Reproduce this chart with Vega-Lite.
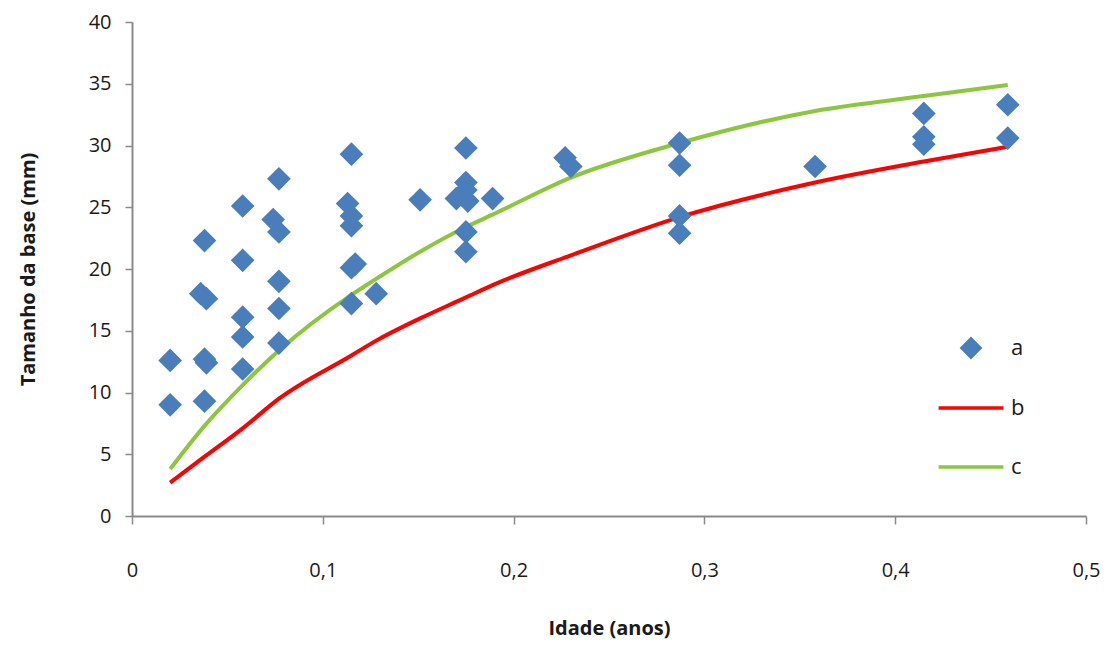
{
  "$schema": "https://vega.github.io/schema/vega-lite/v6.json",
  "width": 954,
  "height": 494,
  "autosize": {"type": "none"},
  "padding": {"left": 132, "top": 22, "right": 31, "bottom": 136},
  "background": "white",
  "config": {
    "view": {"stroke": null},
    "font": "Open Sans",
    "axis": {
      "grid": false,
      "domainColor": "#8a8a8a",
      "domainWidth": 2,
      "tickColor": "#8a8a8a",
      "tickWidth": 1.5,
      "labelFont": "Open Sans",
      "labelFontSize": 20,
      "labelColor": "#1a1a1a",
      "titleFont": "Open Sans",
      "titleFontSize": 20,
      "titleFontWeight": "bold",
      "titleColor": "#1a1a1a"
    }
  },
  "datasets": {
    "obs": [
      {"idade": 0.02, "tamanho": 12.6, "serie": "a"},
      {"idade": 0.02, "tamanho": 9.0, "serie": "a"},
      {"idade": 0.038, "tamanho": 22.3, "serie": "a"},
      {"idade": 0.036, "tamanho": 18.0, "serie": "a"},
      {"idade": 0.039, "tamanho": 17.6, "serie": "a"},
      {"idade": 0.038, "tamanho": 12.7, "serie": "a"},
      {"idade": 0.039, "tamanho": 12.4, "serie": "a"},
      {"idade": 0.038, "tamanho": 9.3, "serie": "a"},
      {"idade": 0.058, "tamanho": 25.1, "serie": "a"},
      {"idade": 0.058, "tamanho": 20.7, "serie": "a"},
      {"idade": 0.058, "tamanho": 16.1, "serie": "a"},
      {"idade": 0.058, "tamanho": 14.5, "serie": "a"},
      {"idade": 0.058, "tamanho": 11.9, "serie": "a"},
      {"idade": 0.077, "tamanho": 27.3, "serie": "a"},
      {"idade": 0.074, "tamanho": 24.0, "serie": "a"},
      {"idade": 0.077, "tamanho": 23.0, "serie": "a"},
      {"idade": 0.077, "tamanho": 19.0, "serie": "a"},
      {"idade": 0.077, "tamanho": 16.8, "serie": "a"},
      {"idade": 0.077, "tamanho": 14.0, "serie": "a"},
      {"idade": 0.115, "tamanho": 29.3, "serie": "a"},
      {"idade": 0.113, "tamanho": 25.3, "serie": "a"},
      {"idade": 0.115, "tamanho": 24.3, "serie": "a"},
      {"idade": 0.115, "tamanho": 23.5, "serie": "a"},
      {"idade": 0.117, "tamanho": 20.4, "serie": "a"},
      {"idade": 0.115, "tamanho": 20.1, "serie": "a"},
      {"idade": 0.115, "tamanho": 17.2, "serie": "a"},
      {"idade": 0.128, "tamanho": 18.0, "serie": "a"},
      {"idade": 0.151, "tamanho": 25.6, "serie": "a"},
      {"idade": 0.175, "tamanho": 29.8, "serie": "a"},
      {"idade": 0.175, "tamanho": 27.0, "serie": "a"},
      {"idade": 0.175, "tamanho": 26.4, "serie": "a"},
      {"idade": 0.170, "tamanho": 25.7, "serie": "a"},
      {"idade": 0.176, "tamanho": 25.5, "serie": "a"},
      {"idade": 0.189, "tamanho": 25.7, "serie": "a"},
      {"idade": 0.175, "tamanho": 23.0, "serie": "a"},
      {"idade": 0.175, "tamanho": 21.4, "serie": "a"},
      {"idade": 0.227, "tamanho": 29.0, "serie": "a"},
      {"idade": 0.230, "tamanho": 28.3, "serie": "a"},
      {"idade": 0.287, "tamanho": 30.2, "serie": "a"},
      {"idade": 0.287, "tamanho": 28.4, "serie": "a"},
      {"idade": 0.287, "tamanho": 24.3, "serie": "a"},
      {"idade": 0.287, "tamanho": 22.9, "serie": "a"},
      {"idade": 0.358, "tamanho": 28.3, "serie": "a"},
      {"idade": 0.415, "tamanho": 32.6, "serie": "a"},
      {"idade": 0.415, "tamanho": 30.7, "serie": "a"},
      {"idade": 0.415, "tamanho": 30.1, "serie": "a"},
      {"idade": 0.459, "tamanho": 33.3, "serie": "a"},
      {"idade": 0.459, "tamanho": 30.6, "serie": "a"}
    ],
    "curvas": [
      {"idade": 0.02, "tamanho": 2.7, "serie": "b"},
      {"idade": 0.038, "tamanho": 4.8, "serie": "b"},
      {"idade": 0.058, "tamanho": 7.1, "serie": "b"},
      {"idade": 0.077, "tamanho": 9.5, "serie": "b"},
      {"idade": 0.115, "tamanho": 13.0, "serie": "b"},
      {"idade": 0.128, "tamanho": 14.2, "serie": "b"},
      {"idade": 0.151, "tamanho": 16.0, "serie": "b"},
      {"idade": 0.175, "tamanho": 17.7, "serie": "b"},
      {"idade": 0.189, "tamanho": 18.7, "serie": "b"},
      {"idade": 0.23, "tamanho": 21.1, "serie": "b"},
      {"idade": 0.287, "tamanho": 24.2, "serie": "b"},
      {"idade": 0.358, "tamanho": 27.0, "serie": "b"},
      {"idade": 0.415, "tamanho": 28.7, "serie": "b"},
      {"idade": 0.459, "tamanho": 29.9, "serie": "b"},
      {"idade": 0.02, "tamanho": 3.8, "serie": "c"},
      {"idade": 0.038, "tamanho": 7.3, "serie": "c"},
      {"idade": 0.058, "tamanho": 10.6, "serie": "c"},
      {"idade": 0.077, "tamanho": 13.4, "serie": "c"},
      {"idade": 0.115, "tamanho": 17.9, "serie": "c"},
      {"idade": 0.128, "tamanho": 19.2, "serie": "c"},
      {"idade": 0.151, "tamanho": 21.4, "serie": "c"},
      {"idade": 0.175, "tamanho": 23.4, "serie": "c"},
      {"idade": 0.189, "tamanho": 24.4, "serie": "c"},
      {"idade": 0.23, "tamanho": 27.4, "serie": "c"},
      {"idade": 0.287, "tamanho": 30.2, "serie": "c"},
      {"idade": 0.358, "tamanho": 32.8, "serie": "c"},
      {"idade": 0.415, "tamanho": 34.0, "serie": "c"},
      {"idade": 0.459, "tamanho": 34.9, "serie": "c"}
    ]
  },
  "encoding": {
    "x": {
      "field": "idade",
      "type": "quantitative",
      "scale": {"domain": [0, 0.5], "nice": false, "zero": false},
      "axis": {
        "title": "Idade (anos)",
        "values": [0, 0.1, 0.2, 0.3, 0.4, 0.5],
        "labelExpr": "datum.value == 0 ? '0' : replace(format(datum.value, '.1f'), '.', ',')",
        "tickSize": 8,
        "labelPadding": 36,
        "titlePadding": 38,
        "labelFlush": false
      }
    },
    "y": {
      "field": "tamanho",
      "type": "quantitative",
      "scale": {"domain": [0, 40], "nice": false},
      "axis": {
        "title": "Tamanho da base (mm)",
        "values": [0, 5, 10, 15, 20, 25, 30, 35, 40],
        "tickSize": 7,
        "labelPadding": 14,
        "titlePadding": 50,
        "labelFlush": false
      }
    },
    "color": {
      "field": "serie",
      "type": "nominal",
      "scale": {"domain": ["a", "b", "c"], "range": ["#4a7ebb", "#ff0000", "#8cc63f"]},
      "legend": {
        "title": null,
        "orient": "none",
        "legendX": 828,
        "legendY": 315,
        "labelFontSize": 22,
        "labelFont": "Open Sans",
        "labelColor": "#1a1a1a",
        "labelOffset": 29,
        "rowPadding": 37,
        "symbolSize": 4200,
        "symbolStrokeWidth": 3.5,
        "encode": {
          "symbols": {
            "update": {
              "size": {"signal": "datum.value === 'a' ? 520 : 4200"},
              "stroke": {"signal": "datum.value === 'a' ? '#4a7ebb' : datum.value === 'b' ? '#ff0000' : '#8cc63f'"},
              "strokeWidth": {"signal": "datum.value === 'a' ? 0 : 3.5"}
            }
          }
        }
      }
    }
  },
  "layer": [
    {
      "data": {"name": "curvas"},
      "mark": {"type": "line", "strokeWidth": 4, "interpolate": "monotone"},
      "encoding": {}
    },
    {
      "data": {"name": "obs"},
      "mark": {"type": "point", "filled": true, "opacity": 1, "size": 560},
      "encoding": {
        "shape": {
          "field": "serie",
          "type": "nominal",
          "scale": {"domain": ["a", "b", "c"], "range": ["diamond", "stroke", "stroke"]},
          "legend": {
            "title": null,
            "orient": "none",
            "legendX": 828,
            "legendY": 315,
            "symbolSize": 4200,
            "rowPadding": 37,
            "labelOffset": 29
          }
        }
      }
    }
  ]
}
